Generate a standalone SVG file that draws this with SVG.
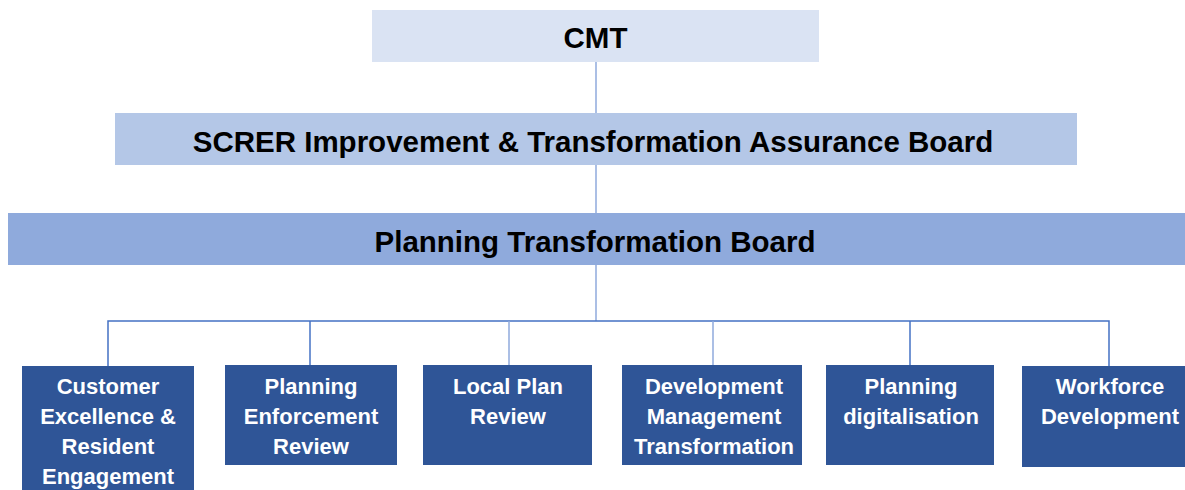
<svg xmlns="http://www.w3.org/2000/svg" width="1185" height="490" viewBox="0 0 1185 490">
<style>
.hdr{font-family:"Liberation Sans",Arial,sans-serif;font-weight:bold;font-size:29.5px;fill:#000;text-anchor:middle}
.sub{font-family:"Liberation Sans",Arial,sans-serif;font-weight:bold;font-size:22px;fill:#fff;text-anchor:middle}
.box{fill:#2f5597}
.ln{stroke:#8faadc;stroke-width:1.5;fill:none}
.bus{stroke:#4472c4;stroke-width:1.5;fill:none}
</style>
<rect width="1185" height="490" fill="#fff"/>
<g id="connectors">
<line class="ln" x1="596" y1="62" x2="596" y2="113"/>
<line class="ln" x1="596" y1="165" x2="596" y2="213"/>
<line class="ln" x1="596" y1="265" x2="596" y2="321"/>
<polyline class="bus" points="108,366 108,321 1109,321 1109,366"/>
<line class="bus" x1="310" y1="321" x2="310" y2="365"/>
<line class="ln" x1="509" y1="321" x2="509" y2="365"/>
<line class="ln" x1="713" y1="321" x2="713" y2="365"/>
<line class="bus" x1="910" y1="321" x2="910" y2="365"/>
</g>
<g id="cmt">
<rect x="372" y="10" width="447" height="52" fill="#dae3f3"/>
<text class="hdr" x="595.5" y="48">CMT</text>
</g>
<g id="screr">
<rect x="115" y="113" width="962" height="52" fill="#b4c7e7"/>
<text class="hdr" x="593" y="151.5">SCRER Improvement &amp; Transformation Assurance Board</text>
</g>
<g id="ptb">
<rect x="8" y="213" width="1177" height="52" fill="#8faadc"/>
<text class="hdr" x="595" y="251.5">Planning Transformation Board</text>
</g>
<g id="customer">
<rect class="box" x="22" y="366" width="172" height="124"/>
<text class="sub" x="108" y="394">Customer</text>
<text class="sub" x="108" y="424">Excellence &amp;</text>
<text class="sub" x="108" y="454">Resident</text>
<text class="sub" x="108" y="484">Engagement</text>
</g>
<g id="enforcement">
<rect class="box" x="225" y="365" width="172" height="100"/>
<text class="sub" x="311" y="394">Planning</text>
<text class="sub" x="311" y="424">Enforcement</text>
<text class="sub" x="311" y="454">Review</text>
</g>
<g id="localplan">
<rect class="box" x="423" y="365" width="169" height="100"/>
<text class="sub" x="508" y="394">Local Plan</text>
<text class="sub" x="508" y="424">Review</text>
</g>
<g id="devmgmt">
<rect class="box" x="622" y="365" width="180" height="100"/>
<text class="sub" x="714" y="394">Development</text>
<text class="sub" x="714" y="424">Management</text>
<text class="sub" x="714" y="454">Transformation</text>
</g>
<g id="digital">
<rect class="box" x="826" y="365" width="168" height="100"/>
<text class="sub" x="911" y="394">Planning</text>
<text class="sub" x="911" y="424">digitalisation</text>
</g>
<g id="workforce">
<rect class="box" x="1022" y="366" width="163" height="101"/>
<text class="sub" x="1110" y="394">Workforce</text>
<text class="sub" x="1110" y="424">Development</text>
</g>
</svg>
